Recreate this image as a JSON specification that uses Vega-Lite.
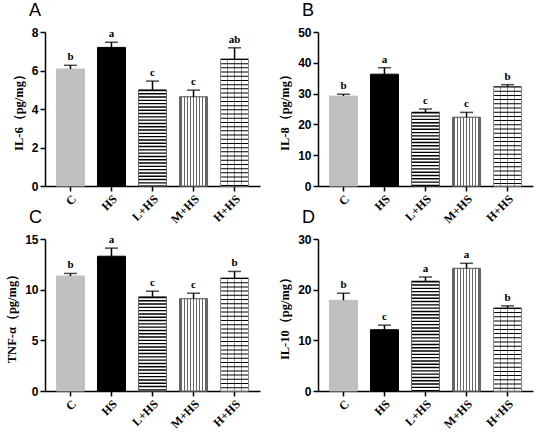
{
  "$schema": "https://vega.github.io/schema/vega-lite/v6.json",
  "padding": {"left": 5, "top": 2, "right": 5, "bottom": 3},
  "data": {
    "values": [
      {"panel": "A", "group": "C", "value": 6.08, "upper": 6.27, "sig": "b"},
      {"panel": "A", "group": "HS", "value": 7.2, "upper": 7.47, "sig": "a"},
      {"panel": "A", "group": "L+HS", "value": 5.0, "upper": 5.45, "sig": "c"},
      {"panel": "A", "group": "M+HS", "value": 4.63, "upper": 4.98, "sig": "c"},
      {"panel": "A", "group": "H+HS", "value": 6.6, "upper": 7.18, "sig": "ab"},
      {"panel": "B", "group": "C", "value": 29.2, "upper": 29.8, "sig": "b"},
      {"panel": "B", "group": "HS", "value": 36.3, "upper": 38.4, "sig": "a"},
      {"panel": "B", "group": "L+HS", "value": 24.0, "upper": 25.0, "sig": "c"},
      {"panel": "B", "group": "M+HS", "value": 22.3, "upper": 23.9, "sig": "c"},
      {"panel": "B", "group": "H+HS", "value": 32.3, "upper": 32.9, "sig": "b"},
      {"panel": "C", "group": "C", "value": 11.35, "upper": 11.6, "sig": "b"},
      {"panel": "C", "group": "HS", "value": 13.3, "upper": 14.1, "sig": "a"},
      {"panel": "C", "group": "L+HS", "value": 9.3, "upper": 9.85, "sig": "c"},
      {"panel": "C", "group": "M+HS", "value": 9.1, "upper": 9.65, "sig": "c"},
      {"panel": "C", "group": "H+HS", "value": 11.15, "upper": 11.8, "sig": "b"},
      {"panel": "D", "group": "C", "value": 17.9, "upper": 19.3, "sig": "b"},
      {"panel": "D", "group": "HS", "value": 12.1, "upper": 13.0, "sig": "c"},
      {"panel": "D", "group": "L+HS", "value": 21.7, "upper": 22.5, "sig": "a"},
      {"panel": "D", "group": "M+HS", "value": 24.2, "upper": 25.2, "sig": "a"},
      {"panel": "D", "group": "H+HS", "value": 16.4, "upper": 16.8, "sig": "b"}
    ]
  },
  "columns": 2,
  "spacing": {"row": -16, "column": 18},
  "concat": [
    {
      "width": 215,
      "height": 154,
      "title": "A",
      "transform": [{"filter": "datum.panel === 'A'"}],
      "encoding": {
        "x": {"field": "group", "type": "nominal", "title": null, "scale": {"domain": ["C", "HS", "L+HS", "M+HS", "H+HS"], "paddingInner": 0, "paddingOuter": 0.12}},
        "y": {"field": "value", "type": "quantitative", "title": "IL-6（pg/mg）", "scale": {"domain": [0, 8]}, "axis": {"values": [0, 2, 4, 6, 8]}}
      },
      "layer": [
        {
          "mark": {"type": "bar", "width": 28, "strokeWidth": 1},
          "encoding": {
            "fill": {"field": "group", "scale": {"domain": ["C", "HS", "L+HS", "M+HS", "H+HS"], "range": ["#c0c0c0", "#000000", "#ffffff", "#ffffff", "#ffffff"]}, "legend": null},
            "stroke": {"field": "group", "scale": {"domain": ["C", "HS", "L+HS", "M+HS", "H+HS"], "range": ["#c0c0c0", "#000000", "#666666", "#666666", "#888888"]}, "legend": null}
          }
        },
        {"transform": [{"filter": "datum.group === 'M+HS'"}], "mark": {"type": "bar", "width": 28, "stroke": "#666666", "strokeWidth": 1, "fill": {"gradient": "linear", "x1": 0, "y1": 0, "x2": 1, "y2": 0, "stops": [{"offset": 0, "color": "#ffffff"}, {"offset": 0.033, "color": "#ffffff"}, {"offset": 0.033, "color": "#666666"}, {"offset": 0.078, "color": "#666666"}, {"offset": 0.078, "color": "#ffffff"}, {"offset": 0.144, "color": "#ffffff"}, {"offset": 0.144, "color": "#666666"}, {"offset": 0.189, "color": "#666666"}, {"offset": 0.189, "color": "#ffffff"}, {"offset": 0.255, "color": "#ffffff"}, {"offset": 0.255, "color": "#666666"}, {"offset": 0.3, "color": "#666666"}, {"offset": 0.3, "color": "#ffffff"}, {"offset": 0.366, "color": "#ffffff"}, {"offset": 0.366, "color": "#666666"}, {"offset": 0.411, "color": "#666666"}, {"offset": 0.411, "color": "#ffffff"}, {"offset": 0.477, "color": "#ffffff"}, {"offset": 0.477, "color": "#666666"}, {"offset": 0.522, "color": "#666666"}, {"offset": 0.522, "color": "#ffffff"}, {"offset": 0.588, "color": "#ffffff"}, {"offset": 0.588, "color": "#666666"}, {"offset": 0.633, "color": "#666666"}, {"offset": 0.633, "color": "#ffffff"}, {"offset": 0.7, "color": "#ffffff"}, {"offset": 0.7, "color": "#666666"}, {"offset": 0.745, "color": "#666666"}, {"offset": 0.745, "color": "#ffffff"}, {"offset": 0.811, "color": "#ffffff"}, {"offset": 0.811, "color": "#666666"}, {"offset": 0.856, "color": "#666666"}, {"offset": 0.856, "color": "#ffffff"}, {"offset": 0.922, "color": "#ffffff"}, {"offset": 0.922, "color": "#666666"}, {"offset": 0.967, "color": "#666666"}, {"offset": 0.967, "color": "#ffffff"}, {"offset": 1, "color": "#ffffff"}]}}},
        {"transform": [{"filter": "datum.group === 'H+HS'"}], "mark": {"type": "bar", "width": 28, "stroke": "#888888", "strokeWidth": 1, "fill": {"gradient": "linear", "x1": 0, "y1": 0, "x2": 1, "y2": 0, "stops": [{"offset": 0, "color": "#ffffff"}, {"offset": 0.23, "color": "#ffffff"}, {"offset": 0.23, "color": "#999999"}, {"offset": 0.27, "color": "#999999"}, {"offset": 0.27, "color": "#ffffff"}, {"offset": 0.48, "color": "#ffffff"}, {"offset": 0.48, "color": "#999999"}, {"offset": 0.52, "color": "#999999"}, {"offset": 0.52, "color": "#ffffff"}, {"offset": 0.73, "color": "#ffffff"}, {"offset": 0.73, "color": "#999999"}, {"offset": 0.77, "color": "#999999"}, {"offset": 0.77, "color": "#ffffff"}, {"offset": 1, "color": "#ffffff"}]}}},
        {"transform": [{"filter": "datum.group === 'L+HS'"}], "mark": {"type": "rule", "style": "hstripe"}, "encoding": {"y2": {"datum": 0}}},
        {"transform": [{"filter": "datum.group === 'H+HS'"}], "mark": {"type": "rule", "style": "mortar"}, "encoding": {"y2": {"datum": 0}}},
        {"mark": {"type": "rule", "strokeWidth": 1.5, "color": "#000"}, "encoding": {"y2": {"field": "upper"}}},
        {"mark": {"type": "tick", "size": 13, "thickness": 1.5, "color": "#000"}, "encoding": {"y": {"field": "upper", "type": "quantitative", "title": "IL-6（pg/mg）"}}},
        {"mark": {"type": "text", "style": "sig"}, "encoding": {"y": {"field": "upper", "type": "quantitative", "title": "IL-6（pg/mg）"}, "text": {"field": "sig"}}}
      ]
    },
    {
      "width": 215,
      "height": 154,
      "title": "B",
      "transform": [{"filter": "datum.panel === 'B'"}],
      "encoding": {
        "x": {"field": "group", "type": "nominal", "title": null, "scale": {"domain": ["C", "HS", "L+HS", "M+HS", "H+HS"], "paddingInner": 0, "paddingOuter": 0.12}},
        "y": {"field": "value", "type": "quantitative", "title": "IL-8（pg/mg）", "scale": {"domain": [0, 50]}, "axis": {"values": [0, 10, 20, 30, 40, 50]}}
      },
      "layer": [
        {
          "mark": {"type": "bar", "width": 28, "strokeWidth": 1},
          "encoding": {
            "fill": {"field": "group", "scale": {"domain": ["C", "HS", "L+HS", "M+HS", "H+HS"], "range": ["#c0c0c0", "#000000", "#ffffff", "#ffffff", "#ffffff"]}, "legend": null},
            "stroke": {"field": "group", "scale": {"domain": ["C", "HS", "L+HS", "M+HS", "H+HS"], "range": ["#c0c0c0", "#000000", "#666666", "#666666", "#888888"]}, "legend": null}
          }
        },
        {"transform": [{"filter": "datum.group === 'M+HS'"}], "mark": {"type": "bar", "width": 28, "stroke": "#666666", "strokeWidth": 1, "fill": {"gradient": "linear", "x1": 0, "y1": 0, "x2": 1, "y2": 0, "stops": [{"offset": 0, "color": "#ffffff"}, {"offset": 0.033, "color": "#ffffff"}, {"offset": 0.033, "color": "#666666"}, {"offset": 0.078, "color": "#666666"}, {"offset": 0.078, "color": "#ffffff"}, {"offset": 0.144, "color": "#ffffff"}, {"offset": 0.144, "color": "#666666"}, {"offset": 0.189, "color": "#666666"}, {"offset": 0.189, "color": "#ffffff"}, {"offset": 0.255, "color": "#ffffff"}, {"offset": 0.255, "color": "#666666"}, {"offset": 0.3, "color": "#666666"}, {"offset": 0.3, "color": "#ffffff"}, {"offset": 0.366, "color": "#ffffff"}, {"offset": 0.366, "color": "#666666"}, {"offset": 0.411, "color": "#666666"}, {"offset": 0.411, "color": "#ffffff"}, {"offset": 0.477, "color": "#ffffff"}, {"offset": 0.477, "color": "#666666"}, {"offset": 0.522, "color": "#666666"}, {"offset": 0.522, "color": "#ffffff"}, {"offset": 0.588, "color": "#ffffff"}, {"offset": 0.588, "color": "#666666"}, {"offset": 0.633, "color": "#666666"}, {"offset": 0.633, "color": "#ffffff"}, {"offset": 0.7, "color": "#ffffff"}, {"offset": 0.7, "color": "#666666"}, {"offset": 0.745, "color": "#666666"}, {"offset": 0.745, "color": "#ffffff"}, {"offset": 0.811, "color": "#ffffff"}, {"offset": 0.811, "color": "#666666"}, {"offset": 0.856, "color": "#666666"}, {"offset": 0.856, "color": "#ffffff"}, {"offset": 0.922, "color": "#ffffff"}, {"offset": 0.922, "color": "#666666"}, {"offset": 0.967, "color": "#666666"}, {"offset": 0.967, "color": "#ffffff"}, {"offset": 1, "color": "#ffffff"}]}}},
        {"transform": [{"filter": "datum.group === 'H+HS'"}], "mark": {"type": "bar", "width": 28, "stroke": "#888888", "strokeWidth": 1, "fill": {"gradient": "linear", "x1": 0, "y1": 0, "x2": 1, "y2": 0, "stops": [{"offset": 0, "color": "#ffffff"}, {"offset": 0.23, "color": "#ffffff"}, {"offset": 0.23, "color": "#999999"}, {"offset": 0.27, "color": "#999999"}, {"offset": 0.27, "color": "#ffffff"}, {"offset": 0.48, "color": "#ffffff"}, {"offset": 0.48, "color": "#999999"}, {"offset": 0.52, "color": "#999999"}, {"offset": 0.52, "color": "#ffffff"}, {"offset": 0.73, "color": "#ffffff"}, {"offset": 0.73, "color": "#999999"}, {"offset": 0.77, "color": "#999999"}, {"offset": 0.77, "color": "#ffffff"}, {"offset": 1, "color": "#ffffff"}]}}},
        {"transform": [{"filter": "datum.group === 'L+HS'"}], "mark": {"type": "rule", "style": "hstripe"}, "encoding": {"y2": {"datum": 0}}},
        {"transform": [{"filter": "datum.group === 'H+HS'"}], "mark": {"type": "rule", "style": "mortar"}, "encoding": {"y2": {"datum": 0}}},
        {"mark": {"type": "rule", "strokeWidth": 1.5, "color": "#000"}, "encoding": {"y2": {"field": "upper"}}},
        {"mark": {"type": "tick", "size": 13, "thickness": 1.5, "color": "#000"}, "encoding": {"y": {"field": "upper", "type": "quantitative", "title": "IL-8（pg/mg）"}}},
        {"mark": {"type": "text", "style": "sig"}, "encoding": {"y": {"field": "upper", "type": "quantitative", "title": "IL-8（pg/mg）"}, "text": {"field": "sig"}}}
      ]
    },
    {
      "width": 215,
      "height": 152,
      "title": "C",
      "transform": [{"filter": "datum.panel === 'C'"}],
      "encoding": {
        "x": {"field": "group", "type": "nominal", "title": null, "scale": {"domain": ["C", "HS", "L+HS", "M+HS", "H+HS"], "paddingInner": 0, "paddingOuter": 0.12}},
        "y": {"field": "value", "type": "quantitative", "title": "TNF-α（pg/mg）", "scale": {"domain": [0, 15]}, "axis": {"values": [0, 5, 10, 15]}}
      },
      "layer": [
        {
          "mark": {"type": "bar", "width": 28, "strokeWidth": 1},
          "encoding": {
            "fill": {"field": "group", "scale": {"domain": ["C", "HS", "L+HS", "M+HS", "H+HS"], "range": ["#c0c0c0", "#000000", "#ffffff", "#ffffff", "#ffffff"]}, "legend": null},
            "stroke": {"field": "group", "scale": {"domain": ["C", "HS", "L+HS", "M+HS", "H+HS"], "range": ["#c0c0c0", "#000000", "#666666", "#666666", "#888888"]}, "legend": null}
          }
        },
        {"transform": [{"filter": "datum.group === 'M+HS'"}], "mark": {"type": "bar", "width": 28, "stroke": "#666666", "strokeWidth": 1, "fill": {"gradient": "linear", "x1": 0, "y1": 0, "x2": 1, "y2": 0, "stops": [{"offset": 0, "color": "#ffffff"}, {"offset": 0.033, "color": "#ffffff"}, {"offset": 0.033, "color": "#666666"}, {"offset": 0.078, "color": "#666666"}, {"offset": 0.078, "color": "#ffffff"}, {"offset": 0.144, "color": "#ffffff"}, {"offset": 0.144, "color": "#666666"}, {"offset": 0.189, "color": "#666666"}, {"offset": 0.189, "color": "#ffffff"}, {"offset": 0.255, "color": "#ffffff"}, {"offset": 0.255, "color": "#666666"}, {"offset": 0.3, "color": "#666666"}, {"offset": 0.3, "color": "#ffffff"}, {"offset": 0.366, "color": "#ffffff"}, {"offset": 0.366, "color": "#666666"}, {"offset": 0.411, "color": "#666666"}, {"offset": 0.411, "color": "#ffffff"}, {"offset": 0.477, "color": "#ffffff"}, {"offset": 0.477, "color": "#666666"}, {"offset": 0.522, "color": "#666666"}, {"offset": 0.522, "color": "#ffffff"}, {"offset": 0.588, "color": "#ffffff"}, {"offset": 0.588, "color": "#666666"}, {"offset": 0.633, "color": "#666666"}, {"offset": 0.633, "color": "#ffffff"}, {"offset": 0.7, "color": "#ffffff"}, {"offset": 0.7, "color": "#666666"}, {"offset": 0.745, "color": "#666666"}, {"offset": 0.745, "color": "#ffffff"}, {"offset": 0.811, "color": "#ffffff"}, {"offset": 0.811, "color": "#666666"}, {"offset": 0.856, "color": "#666666"}, {"offset": 0.856, "color": "#ffffff"}, {"offset": 0.922, "color": "#ffffff"}, {"offset": 0.922, "color": "#666666"}, {"offset": 0.967, "color": "#666666"}, {"offset": 0.967, "color": "#ffffff"}, {"offset": 1, "color": "#ffffff"}]}}},
        {"transform": [{"filter": "datum.group === 'H+HS'"}], "mark": {"type": "bar", "width": 28, "stroke": "#888888", "strokeWidth": 1, "fill": {"gradient": "linear", "x1": 0, "y1": 0, "x2": 1, "y2": 0, "stops": [{"offset": 0, "color": "#ffffff"}, {"offset": 0.23, "color": "#ffffff"}, {"offset": 0.23, "color": "#999999"}, {"offset": 0.27, "color": "#999999"}, {"offset": 0.27, "color": "#ffffff"}, {"offset": 0.48, "color": "#ffffff"}, {"offset": 0.48, "color": "#999999"}, {"offset": 0.52, "color": "#999999"}, {"offset": 0.52, "color": "#ffffff"}, {"offset": 0.73, "color": "#ffffff"}, {"offset": 0.73, "color": "#999999"}, {"offset": 0.77, "color": "#999999"}, {"offset": 0.77, "color": "#ffffff"}, {"offset": 1, "color": "#ffffff"}]}}},
        {"transform": [{"filter": "datum.group === 'L+HS'"}], "mark": {"type": "rule", "style": "hstripe"}, "encoding": {"y2": {"datum": 0}}},
        {"transform": [{"filter": "datum.group === 'H+HS'"}], "mark": {"type": "rule", "style": "mortar"}, "encoding": {"y2": {"datum": 0}}},
        {"mark": {"type": "rule", "strokeWidth": 1.5, "color": "#000"}, "encoding": {"y2": {"field": "upper"}}},
        {"mark": {"type": "tick", "size": 13, "thickness": 1.5, "color": "#000"}, "encoding": {"y": {"field": "upper", "type": "quantitative", "title": "TNF-α（pg/mg）"}}},
        {"mark": {"type": "text", "style": "sig"}, "encoding": {"y": {"field": "upper", "type": "quantitative", "title": "TNF-α（pg/mg）"}, "text": {"field": "sig"}}}
      ]
    },
    {
      "width": 215,
      "height": 152,
      "title": "D",
      "transform": [{"filter": "datum.panel === 'D'"}],
      "encoding": {
        "x": {"field": "group", "type": "nominal", "title": null, "scale": {"domain": ["C", "HS", "L+HS", "M+HS", "H+HS"], "paddingInner": 0, "paddingOuter": 0.12}},
        "y": {"field": "value", "type": "quantitative", "title": "IL-10（pg/mg）", "scale": {"domain": [0, 30]}, "axis": {"values": [0, 10, 20, 30]}}
      },
      "layer": [
        {
          "mark": {"type": "bar", "width": 28, "strokeWidth": 1},
          "encoding": {
            "fill": {"field": "group", "scale": {"domain": ["C", "HS", "L+HS", "M+HS", "H+HS"], "range": ["#c0c0c0", "#000000", "#ffffff", "#ffffff", "#ffffff"]}, "legend": null},
            "stroke": {"field": "group", "scale": {"domain": ["C", "HS", "L+HS", "M+HS", "H+HS"], "range": ["#c0c0c0", "#000000", "#666666", "#666666", "#888888"]}, "legend": null}
          }
        },
        {"transform": [{"filter": "datum.group === 'M+HS'"}], "mark": {"type": "bar", "width": 28, "stroke": "#666666", "strokeWidth": 1, "fill": {"gradient": "linear", "x1": 0, "y1": 0, "x2": 1, "y2": 0, "stops": [{"offset": 0, "color": "#ffffff"}, {"offset": 0.033, "color": "#ffffff"}, {"offset": 0.033, "color": "#666666"}, {"offset": 0.078, "color": "#666666"}, {"offset": 0.078, "color": "#ffffff"}, {"offset": 0.144, "color": "#ffffff"}, {"offset": 0.144, "color": "#666666"}, {"offset": 0.189, "color": "#666666"}, {"offset": 0.189, "color": "#ffffff"}, {"offset": 0.255, "color": "#ffffff"}, {"offset": 0.255, "color": "#666666"}, {"offset": 0.3, "color": "#666666"}, {"offset": 0.3, "color": "#ffffff"}, {"offset": 0.366, "color": "#ffffff"}, {"offset": 0.366, "color": "#666666"}, {"offset": 0.411, "color": "#666666"}, {"offset": 0.411, "color": "#ffffff"}, {"offset": 0.477, "color": "#ffffff"}, {"offset": 0.477, "color": "#666666"}, {"offset": 0.522, "color": "#666666"}, {"offset": 0.522, "color": "#ffffff"}, {"offset": 0.588, "color": "#ffffff"}, {"offset": 0.588, "color": "#666666"}, {"offset": 0.633, "color": "#666666"}, {"offset": 0.633, "color": "#ffffff"}, {"offset": 0.7, "color": "#ffffff"}, {"offset": 0.7, "color": "#666666"}, {"offset": 0.745, "color": "#666666"}, {"offset": 0.745, "color": "#ffffff"}, {"offset": 0.811, "color": "#ffffff"}, {"offset": 0.811, "color": "#666666"}, {"offset": 0.856, "color": "#666666"}, {"offset": 0.856, "color": "#ffffff"}, {"offset": 0.922, "color": "#ffffff"}, {"offset": 0.922, "color": "#666666"}, {"offset": 0.967, "color": "#666666"}, {"offset": 0.967, "color": "#ffffff"}, {"offset": 1, "color": "#ffffff"}]}}},
        {"transform": [{"filter": "datum.group === 'H+HS'"}], "mark": {"type": "bar", "width": 28, "stroke": "#888888", "strokeWidth": 1, "fill": {"gradient": "linear", "x1": 0, "y1": 0, "x2": 1, "y2": 0, "stops": [{"offset": 0, "color": "#ffffff"}, {"offset": 0.23, "color": "#ffffff"}, {"offset": 0.23, "color": "#999999"}, {"offset": 0.27, "color": "#999999"}, {"offset": 0.27, "color": "#ffffff"}, {"offset": 0.48, "color": "#ffffff"}, {"offset": 0.48, "color": "#999999"}, {"offset": 0.52, "color": "#999999"}, {"offset": 0.52, "color": "#ffffff"}, {"offset": 0.73, "color": "#ffffff"}, {"offset": 0.73, "color": "#999999"}, {"offset": 0.77, "color": "#999999"}, {"offset": 0.77, "color": "#ffffff"}, {"offset": 1, "color": "#ffffff"}]}}},
        {"transform": [{"filter": "datum.group === 'L+HS'"}], "mark": {"type": "rule", "style": "hstripe"}, "encoding": {"y2": {"datum": 0}}},
        {"transform": [{"filter": "datum.group === 'H+HS'"}], "mark": {"type": "rule", "style": "mortar"}, "encoding": {"y2": {"datum": 0}}},
        {"mark": {"type": "rule", "strokeWidth": 1.5, "color": "#000"}, "encoding": {"y2": {"field": "upper"}}},
        {"mark": {"type": "tick", "size": 13, "thickness": 1.5, "color": "#000"}, "encoding": {"y": {"field": "upper", "type": "quantitative", "title": "IL-10（pg/mg）"}}},
        {"mark": {"type": "text", "style": "sig"}, "encoding": {"y": {"field": "upper", "type": "quantitative", "title": "IL-10（pg/mg）"}, "text": {"field": "sig"}}}
      ]
    }
  ],
  "config": {
    "view": {"stroke": null},
    "axis": {
      "domainColor": "#000000",
      "domainWidth": 1.5,
      "tickColor": "#000000",
      "tickWidth": 1.5,
      "tickSize": 5,
      "grid": false,
      "labelColor": "#000000",
      "labelFontWeight": "bold",
      "labelFontSize": 12,
      "titleFont": "Liberation Serif",
      "titleFontSize": 12.5,
      "titleFontWeight": "bold",
      "titleColor": "#000000"
    },
    "axisX": {"labelAngle": -45, "labelFont": "Liberation Serif", "labelPadding": 2},
    "axisY": {"labelFont": "Liberation Sans", "titlePadding": 6},
    "title": {"anchor": "start", "frame": "group", "font": "Liberation Sans", "fontSize": 18, "fontWeight": "normal", "color": "#000000", "dx": -16, "offset": 6},
    "style": {
      "sig": {"font": "Liberation Serif", "fontWeight": "bold", "fontSize": 11, "baseline": "bottom", "dy": -3, "color": "#000000"},
      "hstripe": {"strokeWidth": 27, "stroke": "#555555", "strokeDash": [1.4, 1.9]},
      "mortar": {"strokeWidth": 27, "stroke": "#999999", "strokeDash": [1, 3.2]}
    }
  }
}
